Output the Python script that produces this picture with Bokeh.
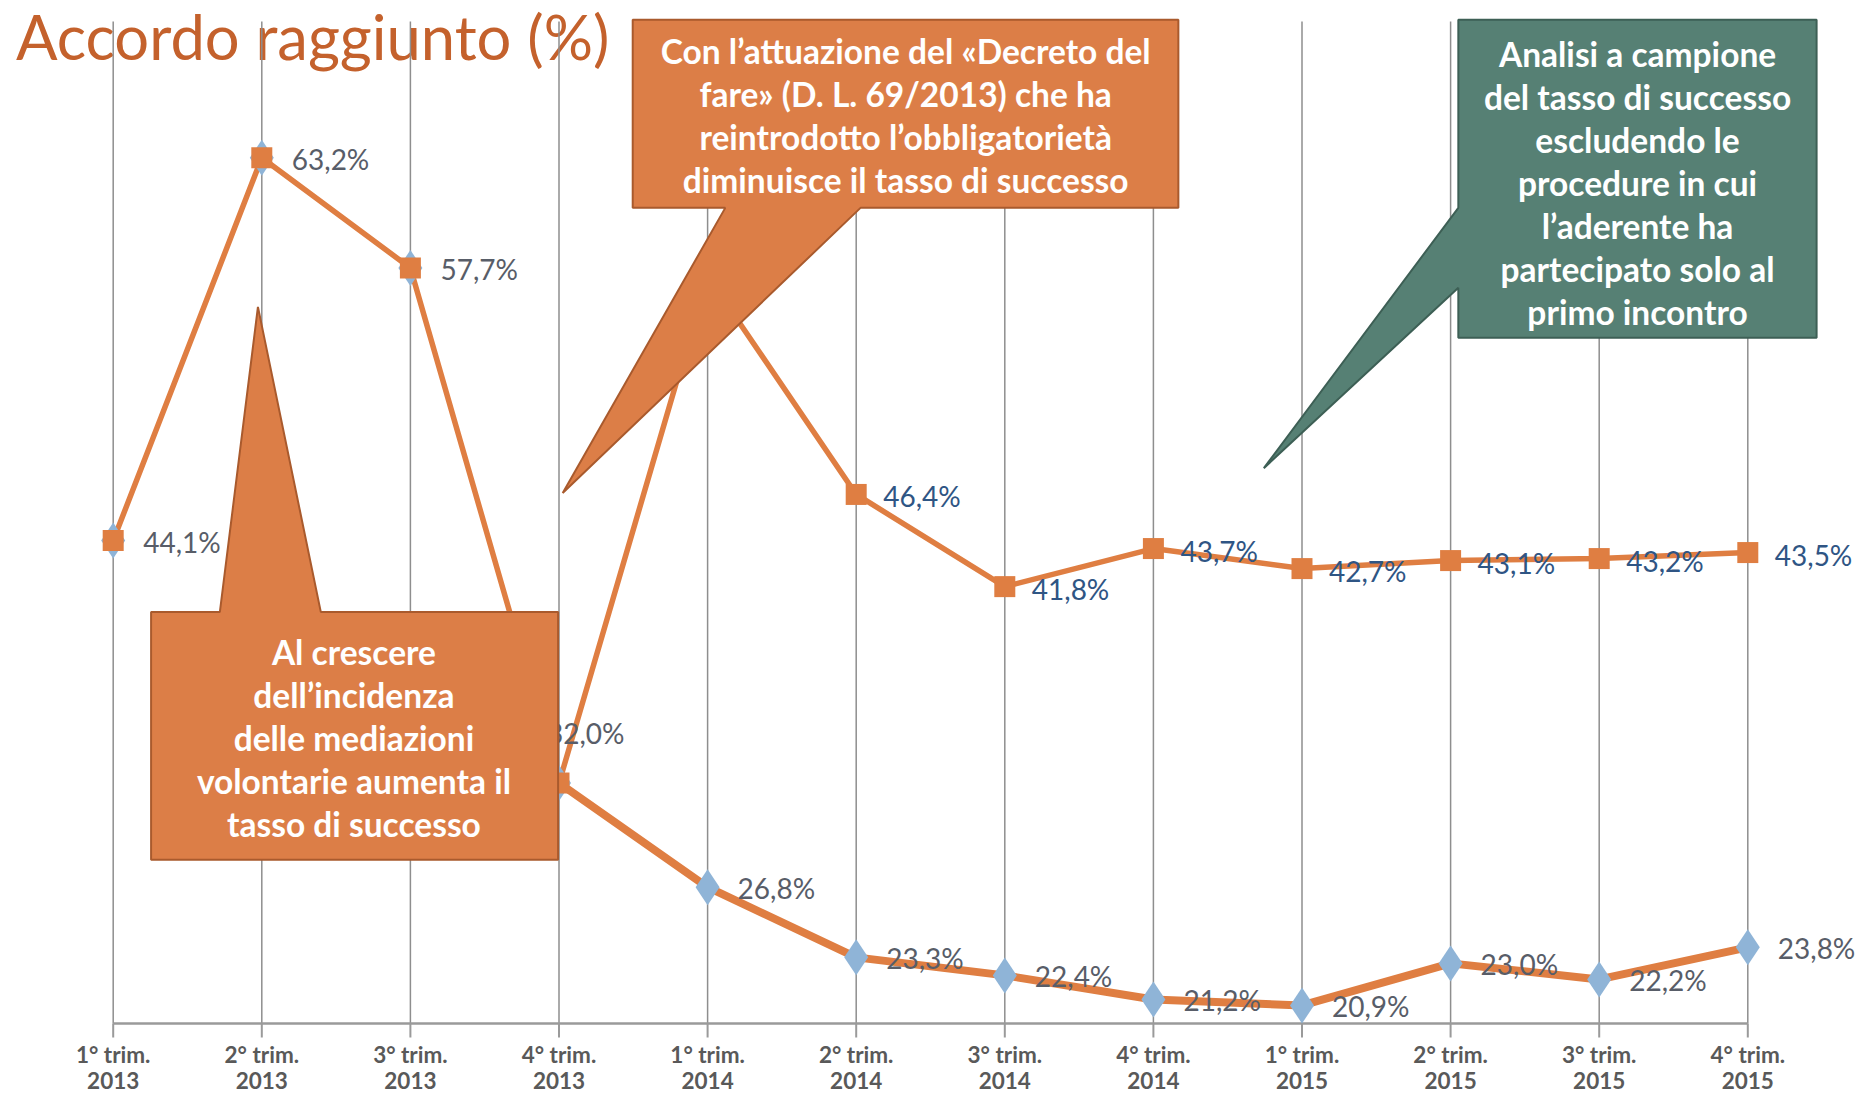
import numpy as np
from bokeh.plotting import figure
from bokeh.models import ColumnDataSource, Range1d
from bokeh.core.properties import value
from bokeh.embed import file_html
from bokeh.resources import INLINE

# ---------------- data ----------------
quarters = ["1° trim.\n2013", "2° trim.\n2013", "3° trim.\n2013", "4° trim.\n2013",
            "1° trim.\n2014", "2° trim.\n2014", "3° trim.\n2014", "4° trim.\n2014",
            "1° trim.\n2015", "2° trim.\n2015", "3° trim.\n2015", "4° trim.\n2015"]
accordo_totale = [44.1, 63.2, 57.7, 32.0, 26.8, 23.3, 22.4, 21.2, 20.9, 23.0, 22.2, 23.8]
accordo_campione = [44.1, 63.2, 57.7, 32.0, 57.3, 46.4, 41.8, 43.7, 42.7, 43.1, 43.2, 43.5]
title_text = "Accordo raggiunto (%)"
note_left = ["Al crescere", "dell\u2019incidenza", "delle mediazioni",
             "volontarie aumenta il", "tasso di successo"]
note_mid = ["Con l\u2019attuazione del \u00abDecreto del",
            "fare\u00bb (D. L. 69/2013) che ha",
            "reintrodotto l\u2019obbligatoriet\u00e0",
            "diminuisce il tasso di successo"]
note_right = ["Analisi a campione", "del tasso di successo", "escludendo le",
              "procedure in cui", "l\u2019aderente ha", "partecipato solo al",
              "primo incontro"]

# ---------------- styles ----------------
ORANGE = "#DF7E42"
BOX_OR = "#DC7E47"
BOX_OR_LINE = "#A95A2D"
GREEN = "#568074"
GREEN_LINE = "#3D5F55"
BLUE_MK = "#8FB4D7"
TITLE_C = "#C4612C"
LAB_GRAY = "#585D68"
LAB_BLUE = "#2F5584"
GRID_C = "#8E8E8E"
AXIS_C = "#9A9A9A"
FONT = value("Lato")

Y_MIN, Y_MAX = 20, 70
PX_PER_UNIT = 20.04   # vertical pixels per percentage point


def fmt(v):
    return f"{v:.1f}%".replace(".", ",")


n = len(quarters)
idx = list(range(n))

p = figure(width=1856, height=1096, output_backend="svg", toolbar_location=None,
           x_range=Range1d(-0.7584, 11.7315),
           y_range=Range1d(Y_MIN - 73 / PX_PER_UNIT, Y_MIN + 1023 / PX_PER_UNIT),
           x_axis_location=None, y_axis_location=None,
           min_border_left=0, min_border_right=0, min_border_top=0, min_border_bottom=0)
p.outline_line_color = None
p.xgrid.visible = False
p.ygrid.visible = False
p.background_fill_color = "white"

# title
p.text(x=[-0.6546], y=[69.3], text=[title_text], text_font=FONT,
       text_font_size="61.5px", text_color=TITLE_C, text_baseline="middle",
       text_align="left")

# vertical gridlines, axis line, ticks
p.segment(x0=idx, y0=[Y_MIN] * n, x1=idx, y1=[Y_MAX] * n, line_color=GRID_C,
          line_width=1.5)
p.segment(x0=[0], y0=[Y_MIN], x1=[n - 1], y1=[Y_MIN], line_color=AXIS_C, line_width=2.5)
p.segment(x0=idx, y0=[Y_MIN] * n, x1=idx, y1=[Y_MIN - 14 / PX_PER_UNIT] * n,
          line_color=AXIS_C, line_width=2)

# tick labels (two lines each)
line1 = [q.split("\n")[0] for q in quarters]
line2 = [q.split("\n")[1] for q in quarters]
for txt, off in ((line1, 31), (line2, 57)):
    p.text(x=idx, y=[Y_MIN] * n, text=txt, y_offset=off, text_font=FONT,
           text_font_style="bold", text_font_size="22.5px", text_color="#595959",
           text_align="center", text_baseline="middle")

# lines
lower_line = np.array(accordo_totale, dtype=float)
lower_line[:3] = np.nan
p.line(idx, lower_line, line_color=ORANGE, line_width=8, line_join="round")
p.line(idx, accordo_campione, line_color=ORANGE, line_width=5.5, line_join="round")

# markers
p.scatter(idx, accordo_totale, marker="diamond", size=36, fill_color=BLUE_MK,
          line_color=None)
p.scatter(idx, accordo_campione, marker="square", size=21, fill_color=ORANGE,
          line_color=None)

# data labels
low_dx = [30] * n
low_dy = [1] * n
low_dx[3] = -12
low_dy[3] = -50
src_low = ColumnDataSource(dict(x=idx, y=accordo_totale,
                                t=[fmt(v) for v in accordo_totale],
                                dx=low_dx, dy=low_dy))
p.text(x="x", y="y", text="t", x_offset="dx", y_offset="dy", source=src_low,
       text_font=FONT, text_font_size="28px", text_color=LAB_GRAY,
       text_baseline="middle", text_align="left")

up_show = idx[5:]
src_up = ColumnDataSource(dict(x=up_show, y=[accordo_campione[i] for i in up_show],
                               t=[fmt(accordo_campione[i]) for i in up_show]))
p.text(x="x", y="y", text="t", x_offset=27, y_offset=2, source=src_up,
       text_font=FONT, text_font_size="28px", text_color=LAB_BLUE,
       text_baseline="middle", text_align="left")

# callouts
p.patch([0.255, 0.255, 0.718, 0.974, 1.397, 2.994, 2.994],
        [28.17, 40.54, 40.54, 55.76, 40.54, 40.54, 28.17],
        fill_color=BOX_OR, line_color=BOX_OR_LINE, line_width=2)
p.patch([3.496, 7.168, 7.168, 5.029, 3.025, 4.119, 3.496],
        [70.09, 70.09, 60.70, 60.70, 46.47, 60.70, 60.70],
        fill_color=BOX_OR, line_color=BOX_OR_LINE, line_width=2)
p.patch([9.052, 11.463, 11.463, 9.052, 9.052, 7.743, 9.052],
        [70.09, 70.09, 54.22, 54.22, 56.71, 47.71, 60.70],
        fill_color=GREEN, line_color=GREEN_LINE, line_width=2)


def note(lines, xc, y0, step):
    p.text(x=[xc] * len(lines), y=[y0 - k * step for k in range(len(lines))],
           text=lines, text_font=FONT, text_font_style="bold",
           text_font_size="33.5px", text_color="white", text_align="center",
           text_baseline="middle")


note(note_left, 1.620, 38.53, 2.146)
note(note_mid, 5.333, 68.55, 2.146)
note(note_right, 10.258, 68.37, 2.142)

open("out.html", "w").write(file_html(p, INLINE))
